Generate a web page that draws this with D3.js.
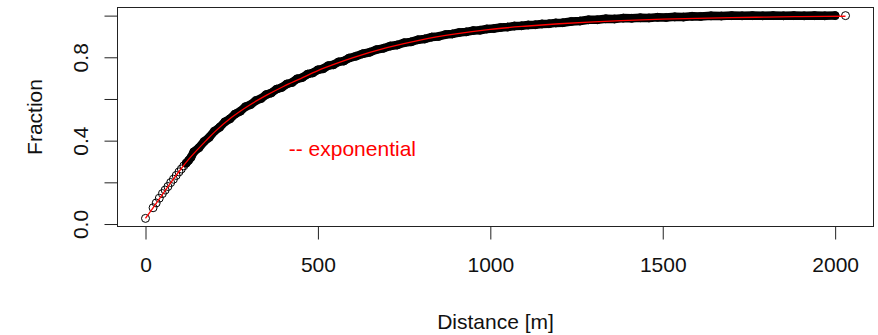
<!DOCTYPE html>
<html>
<head>
<meta charset="utf-8">
<script src="https://cdn.jsdelivr.net/npm/d3@7"></script>
<style>
  body { margin: 0; background: #fff; }
  text { font-family: "Liberation Sans", Arial, sans-serif; }
</style>
</head>
<body>
<div id="chart"></div>
<script>
const distance = [
  0, 22, 31, 40, 49, 57, 65, 73, 81, 89, 97, 104, 111, 118, 125, 132,
  140, 155, 170, 185, 200, 215, 230, 245, 260, 275, 290, 305, 320, 335, 350, 365, 380, 395,
  410, 425, 440, 455, 470, 485, 500, 515, 530, 545, 560, 575, 590,
  610, 630, 650, 670, 690, 710, 730, 750, 770, 790, 810, 830, 850, 870, 890, 910, 930, 950,
  970, 990, 1010, 1030, 1050, 1070, 1090, 1110, 1130, 1150, 1170, 1190, 1210,
  1235, 1260, 1285, 1310, 1335, 1360, 1385, 1410, 1435, 1460, 1485, 1510, 1535, 1560, 1585,
  1610, 1640, 1670, 1700, 1730, 1760, 1790, 1820, 1850, 1880, 1910, 1940, 1970, 2000, 2030
];
const fraction = [
  0.027, 0.078, 0.101, 0.124, 0.146, 0.163, 0.180, 0.199, 0.215, 0.233, 0.250, 0.264, 0.279, 0.292, 0.305, 0.320,
  0.346, 0.366, 0.396, 0.416, 0.446, 0.464, 0.490, 0.505, 0.528, 0.541, 0.563, 0.573, 0.592, 0.602, 0.621, 0.629, 0.647, 0.655,
  0.672, 0.679, 0.697, 0.703, 0.719, 0.725, 0.740, 0.745, 0.760, 0.764, 0.778, 0.782, 0.796,
  0.805, 0.817, 0.824, 0.837, 0.843, 0.854, 0.859, 0.870, 0.874, 0.884, 0.888, 0.897, 0.900, 0.909, 0.912, 0.919, 0.922, 0.928,
  0.930, 0.936, 0.938, 0.943, 0.945, 0.950, 0.951, 0.955, 0.956, 0.960, 0.961, 0.965, 0.966,
  0.972, 0.974, 0.980, 0.980, 0.985, 0.984, 0.988, 0.987, 0.990, 0.989, 0.992, 0.991, 0.994, 0.993, 0.997,
  0.996, 0.999, 0.998, 1.000, 0.999, 1.000, 0.999, 1.000, 0.999, 1.000, 0.999, 1.000, 0.999, 1.000, 1.000
];

// fitted exponential model
const fitDistance = [0, 25, 50, 75, 100, 125, 150, 175, 200, 250, 300, 350, 400, 450, 500, 550, 600,
  700, 800, 900, 1000, 1100, 1200, 1300, 1400, 1500, 1600, 1700, 1800, 1900, 2030];
const fitFraction = [0.027, 0.085, 0.144, 0.202, 0.258, 0.310, 0.356, 0.399, 0.441, 0.512, 0.569, 0.617,
  0.660, 0.698, 0.736, 0.768, 0.797, 0.846, 0.884, 0.912, 0.934, 0.949, 0.961, 0.970, 0.977, 0.983,
  0.987, 0.990, 0.993, 0.995, 0.997];

const xTicks = [0, 500, 1000, 1500, 2000];
const yTicks = [0, 0.2, 0.4, 0.6, 0.8, 1.0];
const yLabelled = [0, 0.4, 0.8];
const legendLabel = '-- exponential';
const legendAt = [600, 0.36];

const width = 878, height = 335;
const box = { left: 117.5, right: 873.5, top: 7.5, bottom: 226.5 };

const svg = d3.select('#chart')
  .append('svg')
  .attr('width', width)
  .attr('height', height);

// R style: 4% padding around the data range
const pad = (lo, hi) => [lo - 0.04 * (hi - lo), hi + 0.04 * (hi - lo)];

const xScale = d3.scaleLinear()
  .domain(pad(d3.min(distance), d3.max(distance)))
  .range([box.left, box.right]);

const yScale = d3.scaleLinear()
  .domain(pad(d3.min(fraction), d3.max(fraction)))
  .range([box.bottom, box.top]);

const points = distance.map((d, i) => ({ d: d, f: fraction[i] }));
const fit = fitDistance.map((d, i) => ({ d: d, f: fitFraction[i] }));

// dense overplotted part of the points shows as a solid band
const band = d3.line()
  .x(p => xScale(p.d))
  .y(p => yScale(p.f));

svg.append('path')
  .datum(points.filter(p => p.d >= 115 && p.d <= 2000))
  .attr('fill', 'none')
  .attr('stroke', '#000')
  .attr('stroke-width', 8.5)
  .attr('stroke-linejoin', 'round')
  .attr('stroke-linecap', 'round')
  .attr('d', band);

svg.append('g')
  .selectAll('circle')
  .data(points)
  .join('circle')
  .attr('cx', p => xScale(p.d))
  .attr('cy', p => yScale(p.f))
  .attr('r', 4)
  .attr('fill', 'none')
  .attr('stroke', '#000')
  .attr('stroke-width', 1);

// fitted line
svg.append('path')
  .datum(fit)
  .attr('fill', 'none')
  .attr('stroke', '#ff0000')
  .attr('stroke-width', 1.3)
  .attr('d', d3.line().x(p => xScale(p.d)).y(p => yScale(p.f)).curve(d3.curveMonotoneX));

// plot frame
svg.append('rect')
  .attr('x', box.left)
  .attr('y', box.top)
  .attr('width', box.right - box.left)
  .attr('height', box.bottom - box.top)
  .attr('fill', 'none')
  .attr('stroke', '#222')
  .attr('stroke-width', 1);

// x axis
const xAxis = svg.append('g')
  .attr('transform', `translate(0, ${box.bottom})`)
  .call(d3.axisBottom(xScale).tickValues(xTicks).tickSize(13).tickPadding(18).tickFormat(d3.format('d')));
xAxis.select('.domain').remove();
xAxis.selectAll('line').attr('stroke', '#222');
xAxis.selectAll('text')
  .attr('fill', '#111')
  .style('font-size', '21px')
  .style('font-family', '"Liberation Sans", Arial, sans-serif');

// y axis, labels rotated like R's default las = 0
const yAxis = svg.append('g')
  .attr('transform', `translate(${box.left}, 0)`)
  .call(d3.axisLeft(yScale).tickValues(yTicks).tickSize(13)
    .tickFormat(v => yLabelled.includes(v) ? d3.format('.1f')(v) : ''));
yAxis.select('.domain').remove();
yAxis.selectAll('line').attr('stroke', '#222');
yAxis.selectAll('text')
  .attr('x', 0)
  .attr('y', -37.5)
  .attr('dy', null)
  .attr('transform', 'rotate(-90)')
  .attr('text-anchor', 'middle')
  .attr('dominant-baseline', 'central')
  .attr('fill', '#111')
  .style('font-size', '21px')
  .style('font-family', '"Liberation Sans", Arial, sans-serif');

// axis titles
svg.append('text')
  .attr('x', (box.left + box.right) / 2)
  .attr('y', 321)
  .attr('text-anchor', 'middle')
  .attr('dominant-baseline', 'central')
  .attr('fill', '#111')
  .style('font-size', '21px')
  .text('Distance [m]');

svg.append('text')
  .attr('transform', `translate(34, ${(box.top + box.bottom) / 2}) rotate(-90)`)
  .attr('text-anchor', 'middle')
  .attr('dominant-baseline', 'central')
  .attr('fill', '#111')
  .style('font-size', '21px')
  .text('Fraction');

// model label
svg.append('text')
  .attr('x', xScale(legendAt[0]))
  .attr('y', yScale(legendAt[1]))
  .attr('text-anchor', 'middle')
  .attr('dominant-baseline', 'central')
  .attr('fill', '#ff0000')
  .style('font-size', '21px')
  .text(legendLabel);
</script>
</body>
</html>
